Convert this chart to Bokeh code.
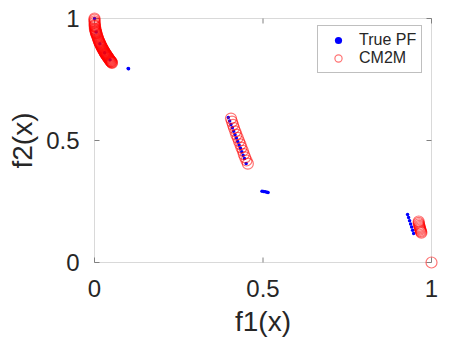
from bokeh.plotting import figure
from bokeh.models import FixedTicker, Legend, LegendItem, Range1d, BoxAnnotation
from bokeh.embed import file_html
from bokeh.resources import INLINE

# ---- data ----
# True Pareto front (blue dots)
pf_f1 = [0.000, 0.005, 0.016, 0.030, 0.046,
         0.100, 0.101,
         0.397, 0.401, 0.405, 0.409, 0.413, 0.417, 0.421, 0.425, 0.429,
         0.433, 0.437, 0.441, 0.445, 0.450,
         0.497, 0.502, 0.507, 0.512, 0.515,
         0.929, 0.932, 0.935, 0.938, 0.941, 0.944, 0.947]
pf_f2 = [1.000, 0.945, 0.897, 0.860, 0.831,
         0.795, 0.794,
         0.594, 0.580, 0.566, 0.552, 0.538, 0.524, 0.510, 0.496, 0.482,
         0.468, 0.454, 0.440, 0.426, 0.406,
         0.292, 0.291, 0.290, 0.288, 0.287,
         0.197, 0.184, 0.171, 0.158, 0.145, 0.132, 0.119]

# CM2M solutions (red circles)
cm_f1 = [0.000, 0.000, 0.000, 0.0005, 0.001, 0.0015, 0.002, 0.003, 0.004,
         0.005, 0.006, 0.007, 0.008, 0.010, 0.012, 0.014, 0.016, 0.018,
         0.020, 0.022, 0.024, 0.026, 0.028, 0.030, 0.032, 0.034, 0.036,
         0.038, 0.040, 0.042, 0.044, 0.046, 0.048, 0.050, 0.052,
         0.000, 0.001, 0.0025, 0.0035, 0.0045, 0.009, 0.011, 0.013, 0.015,
         0.017, 0.019, 0.021, 0.023, 0.025, 0.027, 0.029, 0.031, 0.033,
         0.035, 0.037, 0.039, 0.041, 0.043, 0.045, 0.047, 0.049, 0.051,
         0.405, 0.408, 0.411, 0.414, 0.418, 0.421, 0.425, 0.429, 0.433,
         0.436, 0.440, 0.443, 0.447, 0.451, 0.455,
         0.962, 0.962, 0.963, 0.964, 0.965, 0.966, 0.967, 0.968, 0.969, 0.970,
         1.000]
cm_f2 = [1.000, 0.995, 0.988, 0.982, 0.975, 0.969, 0.964, 0.956, 0.949,
         0.943, 0.938, 0.933, 0.928, 0.920, 0.912, 0.905, 0.899, 0.893,
         0.887, 0.882, 0.877, 0.872, 0.867, 0.862, 0.857, 0.853, 0.849,
         0.845, 0.841, 0.837, 0.833, 0.829, 0.825, 0.822, 0.818,
         0.970, 0.958, 0.952, 0.946, 0.940, 0.924, 0.916, 0.908, 0.902,
         0.896, 0.890, 0.884, 0.879, 0.874, 0.869, 0.864, 0.859, 0.855,
         0.851, 0.847, 0.843, 0.839, 0.835, 0.831, 0.827, 0.824, 0.820,
         0.590, 0.577, 0.564, 0.551, 0.537, 0.524, 0.511, 0.497, 0.484,
         0.471, 0.458, 0.444, 0.431, 0.418, 0.405,
         0.168, 0.162, 0.156, 0.150, 0.145, 0.140, 0.135, 0.130, 0.126, 0.122,
         0.000]

x_ticks = [0, 0.5, 1]
y_ticks = [0, 0.5, 1]
tick_text = {0: "0", 0.5: "0.5", 1: "1"}
x_label = "f1(x)"
y_label = "f2(x)"
series_names = ["True PF", "CM2M"]

# ---- figure ----
FONT = "Liberation Sans"
TXT = "#262626"
AX = "#808080"
padx = 7 / 337
pady = 7 / 244

p = figure(width=461, height=342, output_backend="svg", toolbar_location=None,
           x_range=Range1d(-padx, 1 + padx), y_range=Range1d(-pady, 1 + pady),
           min_border_left=87, min_border_right=23, min_border_top=11,
           min_border_bottom=73)
p.outline_line_color = None
p.grid.visible = False
p.background_fill_color = "white"
p.border_fill_color = "white"

for ax, ticks, lab in ((p.xaxis[0], x_ticks, x_label), (p.yaxis[0], y_ticks, y_label)):
    ax.ticker = FixedTicker(ticks=ticks)
    ax.axis_line_color = None
    ax.major_tick_line_color = None
    ax.minor_tick_line_color = None
    ax.major_label_overrides = tick_text
    ax.major_label_text_font = FONT
    ax.major_label_text_font_size = "24px"
    ax.major_label_text_color = TXT
    ax.axis_label = lab
    ax.axis_label_text_font = FONT
    ax.axis_label_text_font_size = "28px"
    ax.axis_label_text_font_style = "normal"
    ax.axis_label_text_color = TXT
p.xaxis[0].major_label_standoff = 4
p.xaxis[0].axis_label_standoff = 6
p.yaxis[0].major_label_standoff = 2
p.yaxis[0].axis_label_standoff = 5

# axes box (MATLAB "box on") with inward ticks
p.add_layout(BoxAnnotation(left=0, right=1, bottom=0, top=1, fill_color=None,
                           line_color=AX, line_width=1, level="underlay"))
tlx = 5 / 337
tly = 5 / 244
n = len(x_ticks)
p.segment(x0=x_ticks, y0=[0] * n, x1=x_ticks, y1=[tly] * n, line_color=AX, line_width=1)
p.segment(x0=x_ticks, y0=[1] * n, x1=x_ticks, y1=[1 - tly] * n, line_color=AX, line_width=1)
m = len(y_ticks)
p.segment(x0=[0] * m, y0=y_ticks, x1=[tlx] * m, y1=y_ticks, line_color=AX, line_width=1)
p.segment(x0=[1] * m, y0=y_ticks, x1=[1 - tlx] * m, y1=y_ticks, line_color=AX, line_width=1)

r_pf = p.scatter(pf_f1, pf_f2, marker="circle", size=3.5, fill_color="#0000ff",
                 line_color=None)
r_cm = p.scatter(cm_f1, cm_f2, marker="circle", size=11, fill_color=None,
                 line_color="#ff0000", line_alpha=0.55, line_width=1.2)

legend = Legend(items=[LegendItem(label=series_names[0], renderers=[r_pf]),
                       LegendItem(label=series_names[1], renderers=[r_cm])],
                location=(230, 196), margin=0, padding=5, spacing=0,
                glyph_width=30, glyph_height=18, label_height=18,
                label_standoff=6, label_text_font=FONT,
                label_text_font_size="16px", label_text_color=TXT,
                border_line_color=AX, border_line_width=1,
                background_fill_color="white", background_fill_alpha=1)
p.add_layout(legend)

open("out.html", "w").write(file_html(p, INLINE))
